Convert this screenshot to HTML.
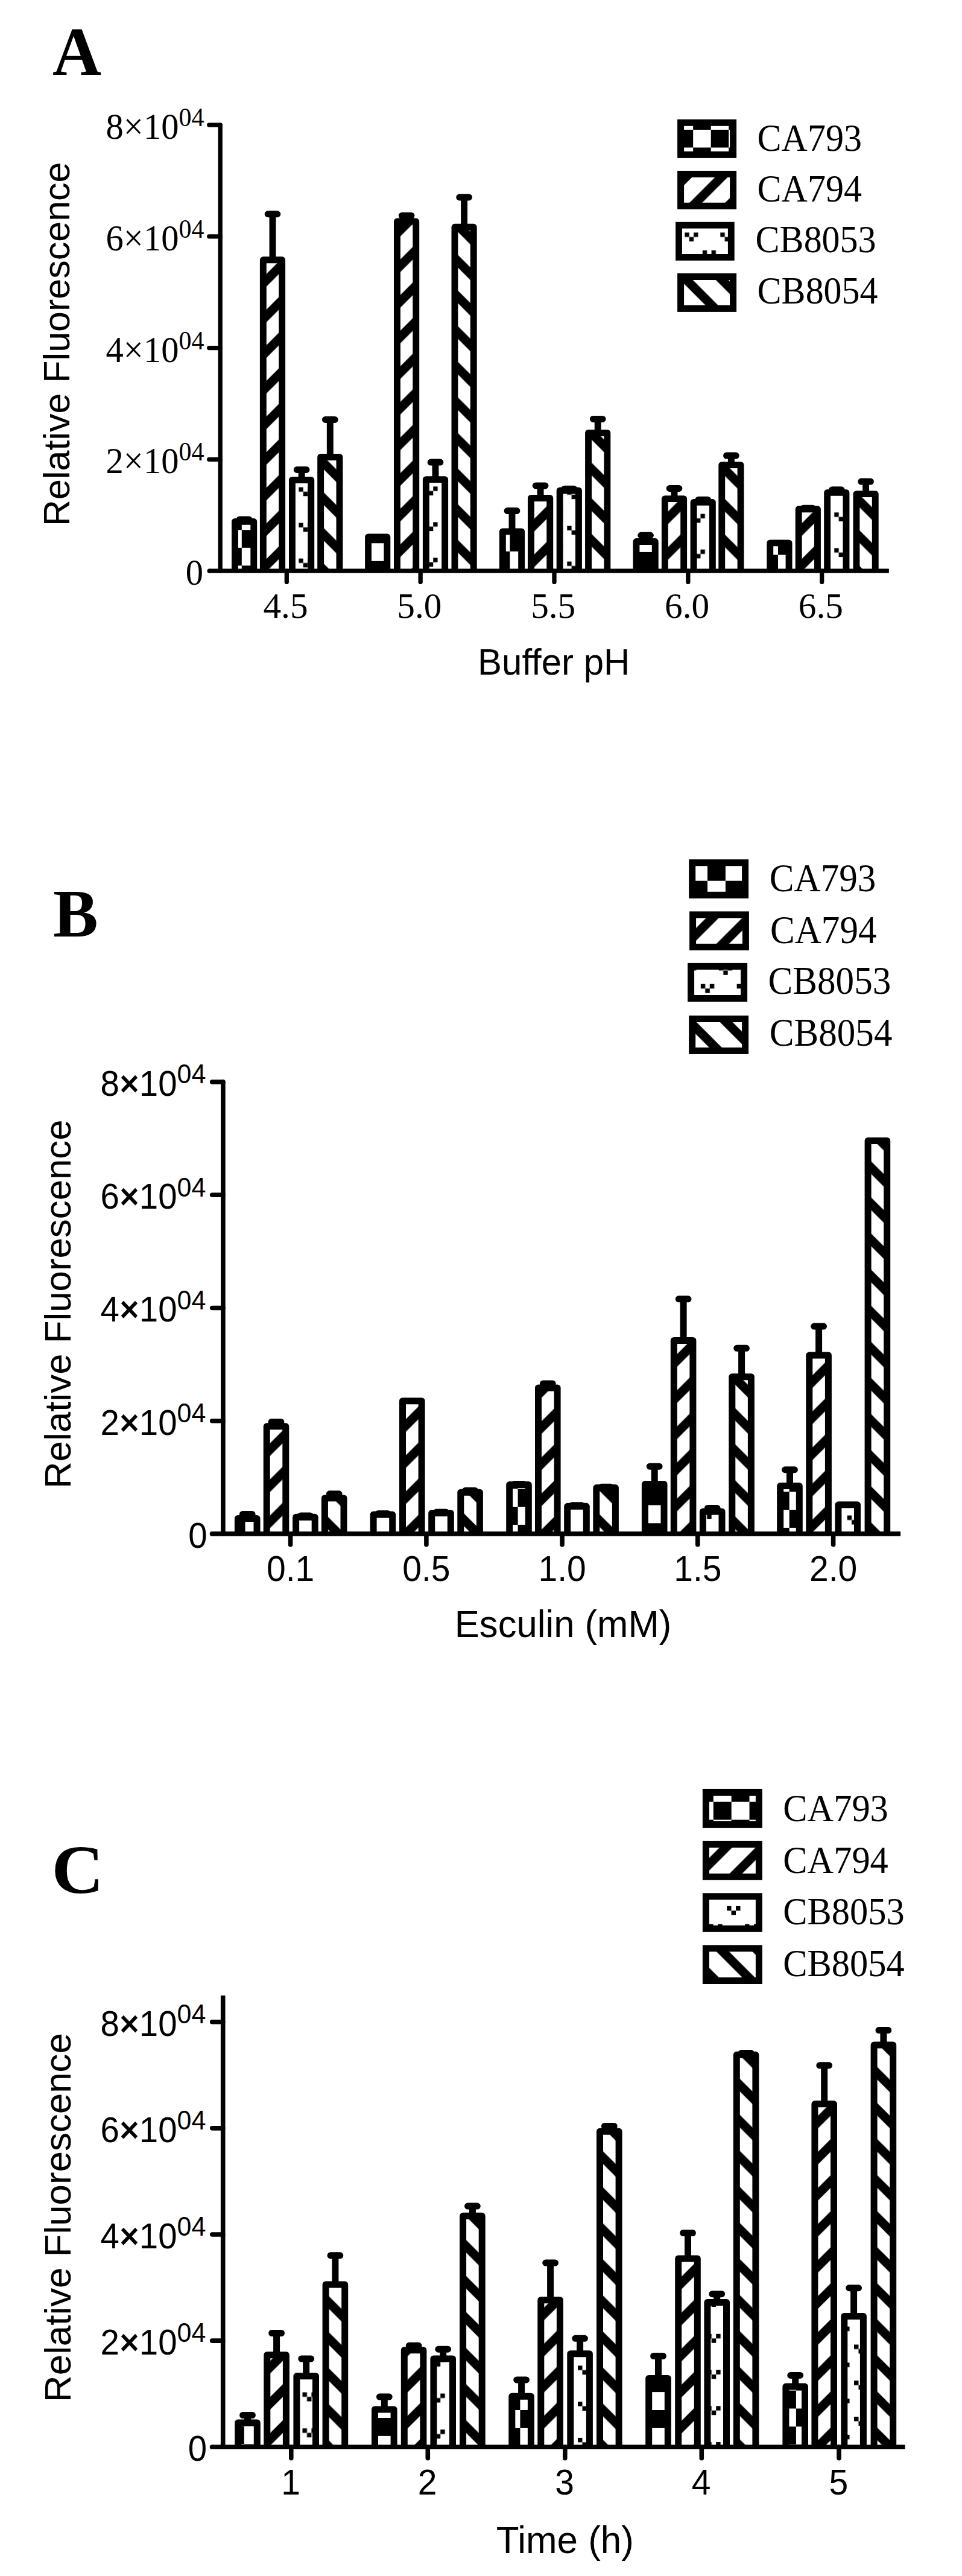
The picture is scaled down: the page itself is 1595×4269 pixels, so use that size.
<!DOCTYPE html>
<html><head><meta charset="utf-8"><title>Figure</title>
<style>
html,body{margin:0;padding:0;background:#fff;}
svg{display:block;}
text{fill:#000;}
</style></head>
<body>
<svg width="1595" height="4269" viewBox="0 0 1595 4269">
<rect width="1595" height="4269" fill="#fff"/>
<defs>
<pattern id="p1" patternUnits="userSpaceOnUse" width="59.04" height="59.04" patternTransform="translate(400.80 878.30)"><rect width="59.04" height="59.04" fill="#fff"/><rect x="0" y="0" width="29.52" height="29.52" fill="#000"/><rect x="29.52" y="29.52" width="29.52" height="29.52" fill="#000"/></pattern>
<pattern id="p2" patternUnits="userSpaceOnUse" width="59.04" height="59.04" patternTransform="translate(442.00 807.90)"><rect width="59.04" height="59.04" fill="#fff"/><polygon points="-59.04,59.04 -38.04,59.04 21.0,0 0.0,0" fill="#000"/><polygon points="0.0,59.04 21.0,59.04 80.03999999999999,0 59.04,0" fill="#000"/><polygon points="59.04,59.04 80.03999999999999,59.04 139.07999999999998,0 118.08,0" fill="#000"/></pattern>
<pattern id="p3" patternUnits="userSpaceOnUse" width="59.04" height="59.04" patternTransform="translate(495.30 807.50)"><rect width="59.04" height="59.04" fill="#fff"/><rect x="0.000" y="0.000" width="7.380" height="7.380" fill="#000"/><rect x="14.760" y="0.000" width="7.380" height="7.380" fill="#000"/><rect x="7.380" y="7.380" width="7.380" height="7.380" fill="#000"/><rect x="29.520" y="29.520" width="7.380" height="7.380" fill="#000"/><rect x="44.280" y="29.520" width="7.380" height="7.380" fill="#000"/><rect x="36.900" y="36.900" width="7.380" height="7.380" fill="#000"/></pattern>
<pattern id="p4" patternUnits="userSpaceOnUse" width="59.04" height="59.04" patternTransform="translate(537.00 837.20)"><rect width="59.04" height="59.04" fill="#fff"/><polygon points="-59.04,0 -38.04,0 21.0,59.04 0.0,59.04" fill="#000"/><polygon points="0.0,0 21.0,0 80.03999999999999,59.04 59.04,59.04" fill="#000"/><polygon points="59.04,0 80.03999999999999,0 139.07999999999998,59.04 118.08,59.04" fill="#000"/></pattern>
<pattern id="p5" patternUnits="userSpaceOnUse" width="59.04" height="59.04" patternTransform="translate(612.00 929.80)"><rect width="59.04" height="59.04" fill="#fff"/><rect x="0" y="0" width="29.52" height="29.52" fill="#000"/><rect x="29.52" y="29.52" width="29.52" height="29.52" fill="#000"/></pattern>
<pattern id="p6" patternUnits="userSpaceOnUse" width="59.04" height="59.04" patternTransform="translate(663.80 429.80)"><rect width="59.04" height="59.04" fill="#fff"/><polygon points="-59.04,59.04 -38.04,59.04 21.0,0 0.0,0" fill="#000"/><polygon points="0.0,59.04 21.0,59.04 80.03999999999999,0 59.04,0" fill="#000"/><polygon points="59.04,59.04 80.03999999999999,59.04 139.07999999999998,0 118.08,0" fill="#000"/></pattern>
<pattern id="p7" patternUnits="userSpaceOnUse" width="59.04" height="59.04" patternTransform="translate(703.50 806.30)"><rect width="59.04" height="59.04" fill="#fff"/><rect x="0.000" y="0.000" width="7.380" height="7.380" fill="#000"/><rect x="14.760" y="0.000" width="7.380" height="7.380" fill="#000"/><rect x="7.380" y="7.380" width="7.380" height="7.380" fill="#000"/><rect x="29.520" y="29.520" width="7.380" height="7.380" fill="#000"/><rect x="44.280" y="29.520" width="7.380" height="7.380" fill="#000"/><rect x="36.900" y="36.900" width="7.380" height="7.380" fill="#000"/></pattern>
<pattern id="p8" patternUnits="userSpaceOnUse" width="59.04" height="59.04" patternTransform="translate(758.90 443.10)"><rect width="59.04" height="59.04" fill="#fff"/><polygon points="-59.04,0 -38.04,0 21.0,59.04 0.0,59.04" fill="#000"/><polygon points="0.0,0 21.0,0 80.03999999999999,59.04 59.04,59.04" fill="#000"/><polygon points="59.04,0 80.03999999999999,0 139.07999999999998,59.04 118.08,59.04" fill="#000"/></pattern>
<pattern id="p9" patternUnits="userSpaceOnUse" width="59.04" height="59.04" patternTransform="translate(874.90 913.80)"><rect width="59.04" height="59.04" fill="#fff"/><rect x="0" y="0" width="29.52" height="29.52" fill="#000"/><rect x="29.52" y="29.52" width="29.52" height="29.52" fill="#000"/></pattern>
<pattern id="p10" patternUnits="userSpaceOnUse" width="59.04" height="59.04" patternTransform="translate(885.50 860.00)"><rect width="59.04" height="59.04" fill="#fff"/><polygon points="-59.04,59.04 -38.04,59.04 21.0,0 0.0,0" fill="#000"/><polygon points="0.0,59.04 21.0,59.04 80.03999999999999,0 59.04,0" fill="#000"/><polygon points="59.04,59.04 80.03999999999999,59.04 139.07999999999998,0 118.08,0" fill="#000"/></pattern>
<pattern id="p11" patternUnits="userSpaceOnUse" width="59.04" height="59.04" patternTransform="translate(940.30 871.50)"><rect width="59.04" height="59.04" fill="#fff"/><rect x="0.000" y="0.000" width="7.380" height="7.380" fill="#000"/><rect x="14.760" y="0.000" width="7.380" height="7.380" fill="#000"/><rect x="7.380" y="7.380" width="7.380" height="7.380" fill="#000"/><rect x="29.520" y="29.520" width="7.380" height="7.380" fill="#000"/><rect x="44.280" y="29.520" width="7.380" height="7.380" fill="#000"/><rect x="36.900" y="36.900" width="7.380" height="7.380" fill="#000"/></pattern>
<pattern id="p12" patternUnits="userSpaceOnUse" width="59.04" height="59.04" patternTransform="translate(980.40 846.30)"><rect width="59.04" height="59.04" fill="#fff"/><polygon points="-59.04,0 -38.04,0 21.0,59.04 0.0,59.04" fill="#000"/><polygon points="0.0,0 21.0,0 80.03999999999999,59.04 59.04,59.04" fill="#000"/><polygon points="59.04,0 80.03999999999999,0 139.07999999999998,59.04 118.08,59.04" fill="#000"/></pattern>
<pattern id="p13" patternUnits="userSpaceOnUse" width="59.04" height="59.04" patternTransform="translate(1055.00 914.90)"><rect width="59.04" height="59.04" fill="#fff"/><rect x="0" y="0" width="29.52" height="29.52" fill="#000"/><rect x="29.52" y="29.52" width="29.52" height="29.52" fill="#000"/></pattern>
<pattern id="p14" patternUnits="userSpaceOnUse" width="59.04" height="59.04" patternTransform="translate(1107.70 847.50)"><rect width="59.04" height="59.04" fill="#fff"/><polygon points="-59.04,59.04 -38.04,59.04 21.0,0 0.0,0" fill="#000"/><polygon points="0.0,59.04 21.0,59.04 80.03999999999999,0 59.04,0" fill="#000"/><polygon points="59.04,59.04 80.03999999999999,59.04 139.07999999999998,0 118.08,0" fill="#000"/></pattern>
<pattern id="p15" patternUnits="userSpaceOnUse" width="59.04" height="59.04" patternTransform="translate(1146.70 851.60)"><rect width="59.04" height="59.04" fill="#fff"/><rect x="0.000" y="0.000" width="7.380" height="7.380" fill="#000"/><rect x="14.760" y="0.000" width="7.380" height="7.380" fill="#000"/><rect x="7.380" y="7.380" width="7.380" height="7.380" fill="#000"/><rect x="29.520" y="29.520" width="7.380" height="7.380" fill="#000"/><rect x="44.280" y="29.520" width="7.380" height="7.380" fill="#000"/><rect x="36.900" y="36.900" width="7.380" height="7.380" fill="#000"/></pattern>
<pattern id="p16" patternUnits="userSpaceOnUse" width="59.04" height="59.04" patternTransform="translate(1202.70 848.60)"><rect width="59.04" height="59.04" fill="#fff"/><polygon points="-59.04,0 -38.04,0 21.0,59.04 0.0,59.04" fill="#000"/><polygon points="0.0,0 21.0,0 80.03999999999999,59.04 59.04,59.04" fill="#000"/><polygon points="59.04,0 80.03999999999999,0 139.07999999999998,59.04 118.08,59.04" fill="#000"/></pattern>
<pattern id="p17" patternUnits="userSpaceOnUse" width="59.04" height="59.04" patternTransform="translate(1319.50 919.50)"><rect width="59.04" height="59.04" fill="#fff"/><rect x="0" y="0" width="29.52" height="29.52" fill="#000"/><rect x="29.52" y="29.52" width="29.52" height="29.52" fill="#000"/></pattern>
<pattern id="p18" patternUnits="userSpaceOnUse" width="59.04" height="59.04" patternTransform="translate(1329.60 866.90)"><rect width="59.04" height="59.04" fill="#fff"/><polygon points="-59.04,59.04 -38.04,59.04 21.0,0 0.0,0" fill="#000"/><polygon points="0.0,59.04 21.0,59.04 80.03999999999999,0 59.04,0" fill="#000"/><polygon points="59.04,59.04 80.03999999999999,59.04 139.07999999999998,0 118.08,0" fill="#000"/></pattern>
<pattern id="p19" patternUnits="userSpaceOnUse" width="59.04" height="59.04" patternTransform="translate(1383.30 849.30)"><rect width="59.04" height="59.04" fill="#fff"/><rect x="0.000" y="0.000" width="7.380" height="7.380" fill="#000"/><rect x="14.760" y="0.000" width="7.380" height="7.380" fill="#000"/><rect x="7.380" y="7.380" width="7.380" height="7.380" fill="#000"/><rect x="29.520" y="29.520" width="7.380" height="7.380" fill="#000"/><rect x="44.280" y="29.520" width="7.380" height="7.380" fill="#000"/><rect x="36.900" y="36.900" width="7.380" height="7.380" fill="#000"/></pattern>
<pattern id="p20" patternUnits="userSpaceOnUse" width="59.04" height="59.04" patternTransform="translate(1424.90 840.60)"><rect width="59.04" height="59.04" fill="#fff"/><polygon points="-59.04,0 -38.04,0 21.0,59.04 0.0,59.04" fill="#000"/><polygon points="0.0,0 21.0,0 80.03999999999999,59.04 59.04,59.04" fill="#000"/><polygon points="59.04,0 80.03999999999999,0 139.07999999999998,59.04 118.08,59.04" fill="#000"/></pattern>
<pattern id="p21" patternUnits="userSpaceOnUse" width="59.04" height="59.04" patternTransform="translate(1178.70 215.00)"><rect width="59.04" height="59.04" fill="#fff"/><rect x="0" y="0" width="29.52" height="29.52" fill="#000"/><rect x="29.52" y="29.52" width="29.52" height="29.52" fill="#000"/></pattern>
<pattern id="p22" patternUnits="userSpaceOnUse" width="59.04" height="59.04" patternTransform="translate(1134.10 345.10)"><rect width="59.04" height="59.04" fill="#fff"/><polygon points="-59.04,59.04 -38.04,59.04 21.0,0 0.0,0" fill="#000"/><polygon points="0.0,59.04 21.0,59.04 80.03999999999999,0 59.04,0" fill="#000"/><polygon points="59.04,59.04 80.03999999999999,59.04 139.07999999999998,0 118.08,0" fill="#000"/></pattern>
<pattern id="p23" patternUnits="userSpaceOnUse" width="59.04" height="59.04" patternTransform="translate(1135.30 385.40)"><rect width="59.04" height="59.04" fill="#fff"/><rect x="0.000" y="0.000" width="7.380" height="7.380" fill="#000"/><rect x="14.760" y="0.000" width="7.380" height="7.380" fill="#000"/><rect x="7.380" y="7.380" width="7.380" height="7.380" fill="#000"/><rect x="29.520" y="29.520" width="7.380" height="7.380" fill="#000"/><rect x="44.280" y="29.520" width="7.380" height="7.380" fill="#000"/><rect x="36.900" y="36.900" width="7.380" height="7.380" fill="#000"/></pattern>
<pattern id="p24" patternUnits="userSpaceOnUse" width="59.04" height="59.04" patternTransform="translate(1134.10 470.30)"><rect width="59.04" height="59.04" fill="#fff"/><polygon points="-59.04,0 -38.04,0 21.0,59.04 0.0,59.04" fill="#000"/><polygon points="0.0,0 21.0,0 80.03999999999999,59.04 59.04,59.04" fill="#000"/><polygon points="59.04,0 80.03999999999999,0 139.07999999999998,59.04 118.08,59.04" fill="#000"/></pattern>
<pattern id="p25" patternUnits="userSpaceOnUse" width="59.85" height="59.85" patternTransform="translate(376.60 2515.00)"><rect width="59.85" height="59.85" fill="#fff"/><rect x="0" y="0" width="29.925" height="29.925" fill="#000"/><rect x="29.925" y="29.925" width="29.925" height="29.925" fill="#000"/></pattern>
<pattern id="p26" patternUnits="userSpaceOnUse" width="59.85" height="59.85" patternTransform="translate(447.70 2451.60)"><rect width="59.85" height="59.85" fill="#fff"/><polygon points="-59.85,59.85 -38.85,59.85 21.0,0 0.0,0" fill="#000"/><polygon points="0.0,59.85 21.0,59.85 80.85,0 59.85,0" fill="#000"/><polygon points="59.85,59.85 80.85,59.85 140.7,0 119.7,0" fill="#000"/></pattern>
<pattern id="p27" patternUnits="userSpaceOnUse" width="59.85" height="59.85" patternTransform="translate(544.30 2475.40)"><rect width="59.85" height="59.85" fill="#fff"/><polygon points="-59.85,0 -38.85,0 21.0,59.85 0.0,59.85" fill="#000"/><polygon points="0.0,0 21.0,0 80.85,59.85 59.85,59.85" fill="#000"/><polygon points="59.85,0 80.85,0 140.7,59.85 119.7,59.85" fill="#000"/></pattern>
<pattern id="p28" patternUnits="userSpaceOnUse" width="59.85" height="59.85" patternTransform="translate(672.80 2411.80)"><rect width="59.85" height="59.85" fill="#fff"/><polygon points="-59.85,59.85 -38.85,59.85 21.0,0 0.0,0" fill="#000"/><polygon points="0.0,59.85 21.0,59.85 80.85,0 59.85,0" fill="#000"/><polygon points="59.85,59.85 80.85,59.85 140.7,0 119.7,0" fill="#000"/></pattern>
<pattern id="p29" patternUnits="userSpaceOnUse" width="59.85" height="59.85" patternTransform="translate(769.20 2469.20)"><rect width="59.85" height="59.85" fill="#fff"/><polygon points="-59.85,0 -38.85,0 21.0,59.85 0.0,59.85" fill="#000"/><polygon points="0.0,0 21.0,0 80.85,59.85 59.85,59.85" fill="#000"/><polygon points="59.85,0 80.85,0 140.7,59.85 119.7,59.85" fill="#000"/></pattern>
<pattern id="p30" patternUnits="userSpaceOnUse" width="59.85" height="59.85" patternTransform="translate(828.70 2497.00)"><rect width="59.85" height="59.85" fill="#fff"/><rect x="0" y="0" width="29.925" height="29.925" fill="#000"/><rect x="29.925" y="29.925" width="29.925" height="29.925" fill="#000"/></pattern>
<pattern id="p31" patternUnits="userSpaceOnUse" width="59.85" height="59.85" patternTransform="translate(897.80 2415.20)"><rect width="59.85" height="59.85" fill="#fff"/><polygon points="-59.85,59.85 -38.85,59.85 21.0,0 0.0,0" fill="#000"/><polygon points="0.0,59.85 21.0,59.85 80.85,0 59.85,0" fill="#000"/><polygon points="59.85,59.85 80.85,59.85 140.7,0 119.7,0" fill="#000"/></pattern>
<pattern id="p32" patternUnits="userSpaceOnUse" width="59.85" height="59.85" patternTransform="translate(994.20 2470.80)"><rect width="59.85" height="59.85" fill="#fff"/><polygon points="-59.85,0 -38.85,0 21.0,59.85 0.0,59.85" fill="#000"/><polygon points="0.0,0 21.0,0 80.85,59.85 59.85,59.85" fill="#000"/><polygon points="59.85,0 80.85,0 140.7,59.85 119.7,59.85" fill="#000"/></pattern>
<pattern id="p33" patternUnits="userSpaceOnUse" width="59.85" height="59.85" patternTransform="translate(1070.00 2524.30)"><rect width="59.85" height="59.85" fill="#fff"/><rect x="0" y="0" width="29.925" height="29.925" fill="#000"/><rect x="29.925" y="29.925" width="29.925" height="29.925" fill="#000"/></pattern>
<pattern id="p34" patternUnits="userSpaceOnUse" width="59.85" height="59.85" patternTransform="translate(1122.80 2423.40)"><rect width="59.85" height="59.85" fill="#fff"/><polygon points="-59.85,59.85 -38.85,59.85 21.0,0 0.0,0" fill="#000"/><polygon points="0.0,59.85 21.0,59.85 80.85,0 59.85,0" fill="#000"/><polygon points="59.85,59.85 80.85,59.85 140.7,0 119.7,0" fill="#000"/></pattern>
<pattern id="p35" patternUnits="userSpaceOnUse" width="59.85" height="59.85" patternTransform="translate(1164.70 2502.00)"><rect width="59.85" height="59.85" fill="#fff"/><rect x="0.000" y="0.000" width="7.481" height="7.481" fill="#000"/><rect x="14.963" y="0.000" width="7.481" height="7.481" fill="#000"/><rect x="7.481" y="7.481" width="7.481" height="7.481" fill="#000"/><rect x="29.925" y="29.925" width="7.481" height="7.481" fill="#000"/><rect x="44.888" y="29.925" width="7.481" height="7.481" fill="#000"/><rect x="37.406" y="37.406" width="7.481" height="7.481" fill="#000"/></pattern>
<pattern id="p36" patternUnits="userSpaceOnUse" width="59.85" height="59.85" patternTransform="translate(1219.20 2414.70)"><rect width="59.85" height="59.85" fill="#fff"/><polygon points="-59.85,0 -38.85,0 21.0,59.85 0.0,59.85" fill="#000"/><polygon points="0.0,0 21.0,0 80.85,59.85 59.85,59.85" fill="#000"/><polygon points="59.85,0 80.85,0 140.7,59.85 119.7,59.85" fill="#000"/></pattern>
<pattern id="p37" patternUnits="userSpaceOnUse" width="59.85" height="59.85" patternTransform="translate(1308.70 2502.00)"><rect width="59.85" height="59.85" fill="#fff"/><rect x="0" y="0" width="29.925" height="29.925" fill="#000"/><rect x="29.925" y="29.925" width="29.925" height="29.925" fill="#000"/></pattern>
<pattern id="p38" patternUnits="userSpaceOnUse" width="59.85" height="59.85" patternTransform="translate(1347.30 2398.50)"><rect width="59.85" height="59.85" fill="#fff"/><polygon points="-59.85,59.85 -38.85,59.85 21.0,0 0.0,0" fill="#000"/><polygon points="0.0,59.85 21.0,59.85 80.85,0 59.85,0" fill="#000"/><polygon points="59.85,59.85 80.85,59.85 140.7,0 119.7,0" fill="#000"/></pattern>
<pattern id="p39" patternUnits="userSpaceOnUse" width="59.85" height="59.85" patternTransform="translate(1404.70 2511.50)"><rect width="59.85" height="59.85" fill="#fff"/><rect x="0.000" y="0.000" width="7.481" height="7.481" fill="#000"/><rect x="14.963" y="0.000" width="7.481" height="7.481" fill="#000"/><rect x="7.481" y="7.481" width="7.481" height="7.481" fill="#000"/><rect x="29.925" y="29.925" width="7.481" height="7.481" fill="#000"/><rect x="44.888" y="29.925" width="7.481" height="7.481" fill="#000"/><rect x="37.406" y="37.406" width="7.481" height="7.481" fill="#000"/></pattern>
<pattern id="p40" patternUnits="userSpaceOnUse" width="59.85" height="59.85" patternTransform="translate(1444.20 2424.20)"><rect width="59.85" height="59.85" fill="#fff"/><polygon points="-59.85,0 -38.85,0 21.0,59.85 0.0,59.85" fill="#000"/><polygon points="0.0,0 21.0,0 80.85,59.85 59.85,59.85" fill="#000"/><polygon points="59.85,0 80.85,0 140.7,59.85 119.7,59.85" fill="#000"/></pattern>
<pattern id="p41" patternUnits="userSpaceOnUse" width="59.85" height="59.85" patternTransform="translate(1202.90 1459.70)"><rect width="59.85" height="59.85" fill="#fff"/><rect x="0" y="0" width="29.925" height="29.925" fill="#000"/><rect x="29.925" y="29.925" width="29.925" height="29.925" fill="#000"/></pattern>
<pattern id="p42" patternUnits="userSpaceOnUse" width="59.85" height="59.85" patternTransform="translate(1154.30 1537.70)"><rect width="59.85" height="59.85" fill="#fff"/><polygon points="-59.85,59.85 -38.85,59.85 21.0,0 0.0,0" fill="#000"/><polygon points="0.0,59.85 21.0,59.85 80.85,0 59.85,0" fill="#000"/><polygon points="59.85,59.85 80.85,59.85 140.7,0 119.7,0" fill="#000"/></pattern>
<pattern id="p43" patternUnits="userSpaceOnUse" width="59.85" height="59.85" patternTransform="translate(1161.80 1630.70)"><rect width="59.85" height="59.85" fill="#fff"/><rect x="0.000" y="0.000" width="7.481" height="7.481" fill="#000"/><rect x="14.963" y="0.000" width="7.481" height="7.481" fill="#000"/><rect x="7.481" y="7.481" width="7.481" height="7.481" fill="#000"/><rect x="29.925" y="29.925" width="7.481" height="7.481" fill="#000"/><rect x="44.888" y="29.925" width="7.481" height="7.481" fill="#000"/><rect x="37.406" y="37.406" width="7.481" height="7.481" fill="#000"/></pattern>
<pattern id="p44" patternUnits="userSpaceOnUse" width="59.85" height="59.85" patternTransform="translate(1153.00 1713.10)"><rect width="59.85" height="59.85" fill="#fff"/><polygon points="-59.85,0 -38.85,0 21.0,59.85 0.0,59.85" fill="#000"/><polygon points="0.0,0 21.0,0 80.85,59.85 59.85,59.85" fill="#000"/><polygon points="59.85,0 80.85,0 140.7,59.85 119.7,59.85" fill="#000"/></pattern>
<pattern id="p45" patternUnits="userSpaceOnUse" width="59.76" height="59.76" patternTransform="translate(374.95 4020.80)"><rect width="59.76" height="59.76" fill="#fff"/><rect x="0" y="0" width="29.88" height="29.88" fill="#000"/><rect x="29.88" y="29.88" width="29.88" height="29.88" fill="#000"/></pattern>
<pattern id="p46" patternUnits="userSpaceOnUse" width="59.76" height="59.76" patternTransform="translate(448.10 3972.10)"><rect width="59.76" height="59.76" fill="#fff"/><polygon points="-59.76,59.76 -38.76,59.76 21.0,0 0.0,0" fill="#000"/><polygon points="0.0,59.76 21.0,59.76 80.75999999999999,0 59.76,0" fill="#000"/><polygon points="59.76,59.76 80.75999999999999,59.76 140.51999999999998,0 119.52,0" fill="#000"/></pattern>
<pattern id="p47" patternUnits="userSpaceOnUse" width="59.76" height="59.76" patternTransform="translate(501.50 3964.60)"><rect width="59.76" height="59.76" fill="#fff"/><rect x="0.000" y="0.000" width="7.470" height="7.470" fill="#000"/><rect x="14.940" y="0.000" width="7.470" height="7.470" fill="#000"/><rect x="7.470" y="7.470" width="7.470" height="7.470" fill="#000"/><rect x="29.880" y="29.880" width="7.470" height="7.470" fill="#000"/><rect x="44.820" y="29.880" width="7.470" height="7.470" fill="#000"/><rect x="37.350" y="37.350" width="7.470" height="7.470" fill="#000"/></pattern>
<pattern id="p48" patternUnits="userSpaceOnUse" width="59.76" height="59.76" patternTransform="translate(545.40 3945.90)"><rect width="59.76" height="59.76" fill="#fff"/><polygon points="-59.76,0 -38.76,0 21.0,59.76 0.0,59.76" fill="#000"/><polygon points="0.0,0 21.0,0 80.75999999999999,59.76 59.76,59.76" fill="#000"/><polygon points="59.76,0 80.75999999999999,0 140.51999999999998,59.76 119.52,59.76" fill="#000"/></pattern>
<pattern id="p49" patternUnits="userSpaceOnUse" width="59.76" height="59.76" patternTransform="translate(622.00 4007.00)"><rect width="59.76" height="59.76" fill="#fff"/><rect x="0" y="0" width="29.88" height="29.88" fill="#000"/><rect x="29.88" y="29.88" width="29.88" height="29.88" fill="#000"/></pattern>
<pattern id="p50" patternUnits="userSpaceOnUse" width="59.76" height="59.76" patternTransform="translate(676.10 3943.40)"><rect width="59.76" height="59.76" fill="#fff"/><polygon points="-59.76,59.76 -38.76,59.76 21.0,0 0.0,0" fill="#000"/><polygon points="0.0,59.76 21.0,59.76 80.75999999999999,0 59.76,0" fill="#000"/><polygon points="59.76,59.76 80.75999999999999,59.76 140.51999999999998,0 119.52,0" fill="#000"/></pattern>
<pattern id="p51" patternUnits="userSpaceOnUse" width="59.76" height="59.76" patternTransform="translate(715.30 3966.60)"><rect width="59.76" height="59.76" fill="#fff"/><rect x="0.000" y="0.000" width="7.470" height="7.470" fill="#000"/><rect x="14.940" y="0.000" width="7.470" height="7.470" fill="#000"/><rect x="7.470" y="7.470" width="7.470" height="7.470" fill="#000"/><rect x="29.880" y="29.880" width="7.470" height="7.470" fill="#000"/><rect x="44.820" y="29.880" width="7.470" height="7.470" fill="#000"/><rect x="37.350" y="37.350" width="7.470" height="7.470" fill="#000"/></pattern>
<pattern id="p52" patternUnits="userSpaceOnUse" width="59.76" height="59.76" patternTransform="translate(772.20 3911.70)"><rect width="59.76" height="59.76" fill="#fff"/><polygon points="-59.76,0 -38.76,0 21.0,59.76 0.0,59.76" fill="#000"/><polygon points="0.0,0 21.0,0 80.75999999999999,59.76 59.76,59.76" fill="#000"/><polygon points="59.76,0 80.75999999999999,0 140.51999999999998,59.76 119.52,59.76" fill="#000"/></pattern>
<pattern id="p53" patternUnits="userSpaceOnUse" width="59.76" height="59.76" patternTransform="translate(862.40 3994.00)"><rect width="59.76" height="59.76" fill="#fff"/><rect x="0" y="0" width="29.88" height="29.88" fill="#000"/><rect x="29.88" y="29.88" width="29.88" height="29.88" fill="#000"/></pattern>
<pattern id="p54" patternUnits="userSpaceOnUse" width="59.76" height="59.76" patternTransform="translate(902.40 3943.40)"><rect width="59.76" height="59.76" fill="#fff"/><polygon points="-59.76,59.76 -38.76,59.76 21.0,0 0.0,0" fill="#000"/><polygon points="0.0,59.76 21.0,59.76 80.75999999999999,0 59.76,0" fill="#000"/><polygon points="59.76,59.76 80.75999999999999,59.76 140.51999999999998,0 119.52,0" fill="#000"/></pattern>
<pattern id="p55" patternUnits="userSpaceOnUse" width="59.76" height="59.76" patternTransform="translate(958.00 3920.40)"><rect width="59.76" height="59.76" fill="#fff"/><rect x="0.000" y="0.000" width="7.470" height="7.470" fill="#000"/><rect x="14.940" y="0.000" width="7.470" height="7.470" fill="#000"/><rect x="7.470" y="7.470" width="7.470" height="7.470" fill="#000"/><rect x="29.880" y="29.880" width="7.470" height="7.470" fill="#000"/><rect x="44.820" y="29.880" width="7.470" height="7.470" fill="#000"/><rect x="37.350" y="37.350" width="7.470" height="7.470" fill="#000"/></pattern>
<pattern id="p56" patternUnits="userSpaceOnUse" width="59.76" height="59.76" patternTransform="translate(999.70 3944.60)"><rect width="59.76" height="59.76" fill="#fff"/><polygon points="-59.76,0 -38.76,0 21.0,59.76 0.0,59.76" fill="#000"/><polygon points="0.0,0 21.0,0 80.75999999999999,59.76 59.76,59.76" fill="#000"/><polygon points="59.76,0 80.75999999999999,0 140.51999999999998,59.76 119.52,59.76" fill="#000"/></pattern>
<pattern id="p57" patternUnits="userSpaceOnUse" width="59.76" height="59.76" patternTransform="translate(1076.00 3994.00)"><rect width="59.76" height="59.76" fill="#fff"/><rect x="0" y="0" width="29.88" height="29.88" fill="#000"/><rect x="29.88" y="29.88" width="29.88" height="29.88" fill="#000"/></pattern>
<pattern id="p58" patternUnits="userSpaceOnUse" width="59.76" height="59.76" patternTransform="translate(1129.90 3952.10)"><rect width="59.76" height="59.76" fill="#fff"/><polygon points="-59.76,59.76 -38.76,59.76 21.0,0 0.0,0" fill="#000"/><polygon points="0.0,59.76 21.0,59.76 80.75999999999999,0 59.76,0" fill="#000"/><polygon points="59.76,59.76 80.75999999999999,59.76 140.51999999999998,0 119.52,0" fill="#000"/></pattern>
<pattern id="p59" patternUnits="userSpaceOnUse" width="59.76" height="59.76" patternTransform="translate(1172.30 3867.80)"><rect width="59.76" height="59.76" fill="#fff"/><rect x="0.000" y="0.000" width="7.470" height="7.470" fill="#000"/><rect x="14.940" y="0.000" width="7.470" height="7.470" fill="#000"/><rect x="7.470" y="7.470" width="7.470" height="7.470" fill="#000"/><rect x="29.880" y="29.880" width="7.470" height="7.470" fill="#000"/><rect x="44.820" y="29.880" width="7.470" height="7.470" fill="#000"/><rect x="37.350" y="37.350" width="7.470" height="7.470" fill="#000"/></pattern>
<pattern id="p60" patternUnits="userSpaceOnUse" width="59.76" height="59.76" patternTransform="translate(1226.70 3944.10)"><rect width="59.76" height="59.76" fill="#fff"/><polygon points="-59.76,0 -38.76,0 21.0,59.76 0.0,59.76" fill="#000"/><polygon points="0.0,0 21.0,0 80.75999999999999,59.76 59.76,59.76" fill="#000"/><polygon points="59.76,0 80.75999999999999,0 140.51999999999998,59.76 119.52,59.76" fill="#000"/></pattern>
<pattern id="p61" patternUnits="userSpaceOnUse" width="59.76" height="59.76" patternTransform="translate(1319.90 3991.50)"><rect width="59.76" height="59.76" fill="#fff"/><rect x="0" y="0" width="29.88" height="29.88" fill="#000"/><rect x="29.88" y="29.88" width="29.88" height="29.88" fill="#000"/></pattern>
<pattern id="p62" patternUnits="userSpaceOnUse" width="59.76" height="59.76" patternTransform="translate(1356.10 3924.70)"><rect width="59.76" height="59.76" fill="#fff"/><polygon points="-59.76,59.76 -38.76,59.76 21.0,0 0.0,0" fill="#000"/><polygon points="0.0,59.76 21.0,59.76 80.75999999999999,0 59.76,0" fill="#000"/><polygon points="59.76,59.76 80.75999999999999,59.76 140.51999999999998,0 119.52,0" fill="#000"/></pattern>
<pattern id="p63" patternUnits="userSpaceOnUse" width="59.76" height="59.76" patternTransform="translate(1416.00 3885.50)"><rect width="59.76" height="59.76" fill="#fff"/><rect x="0.000" y="0.000" width="7.470" height="7.470" fill="#000"/><rect x="14.940" y="0.000" width="7.470" height="7.470" fill="#000"/><rect x="7.470" y="7.470" width="7.470" height="7.470" fill="#000"/><rect x="29.880" y="29.880" width="7.470" height="7.470" fill="#000"/><rect x="44.820" y="29.880" width="7.470" height="7.470" fill="#000"/><rect x="37.350" y="37.350" width="7.470" height="7.470" fill="#000"/></pattern>
<pattern id="p64" patternUnits="userSpaceOnUse" width="59.76" height="59.76" patternTransform="translate(1454.20 3924.20)"><rect width="59.76" height="59.76" fill="#fff"/><polygon points="-59.76,0 -38.76,0 21.0,59.76 0.0,59.76" fill="#000"/><polygon points="0.0,0 21.0,0 80.75999999999999,59.76 59.76,59.76" fill="#000"/><polygon points="59.76,0 80.75999999999999,0 140.51999999999998,59.76 119.52,59.76" fill="#000"/></pattern>
<pattern id="p65" patternUnits="userSpaceOnUse" width="59.76" height="59.76" patternTransform="translate(1182.80 2985.80)"><rect width="59.76" height="59.76" fill="#fff"/><rect x="0" y="0" width="29.88" height="29.88" fill="#000"/><rect x="29.88" y="29.88" width="29.88" height="29.88" fill="#000"/></pattern>
<pattern id="p66" patternUnits="userSpaceOnUse" width="59.76" height="59.76" patternTransform="translate(1175.70 3079.10)"><rect width="59.76" height="59.76" fill="#fff"/><polygon points="-59.76,59.76 -38.76,59.76 21.0,0 0.0,0" fill="#000"/><polygon points="0.0,59.76 21.0,59.76 80.75999999999999,0 59.76,0" fill="#000"/><polygon points="59.76,59.76 80.75999999999999,59.76 140.51999999999998,0 119.52,0" fill="#000"/></pattern>
<pattern id="p67" patternUnits="userSpaceOnUse" width="59.76" height="59.76" patternTransform="translate(1205.10 3158.90)"><rect width="59.76" height="59.76" fill="#fff"/><rect x="0.000" y="0.000" width="7.470" height="7.470" fill="#000"/><rect x="14.940" y="0.000" width="7.470" height="7.470" fill="#000"/><rect x="7.470" y="7.470" width="7.470" height="7.470" fill="#000"/><rect x="29.880" y="29.880" width="7.470" height="7.470" fill="#000"/><rect x="44.820" y="29.880" width="7.470" height="7.470" fill="#000"/><rect x="37.350" y="37.350" width="7.470" height="7.470" fill="#000"/></pattern>
<pattern id="p68" patternUnits="userSpaceOnUse" width="59.76" height="59.76" patternTransform="translate(1175.70 3222.10)"><rect width="59.76" height="59.76" fill="#fff"/><polygon points="-59.76,0 -38.76,0 21.0,59.76 0.0,59.76" fill="#000"/><polygon points="0.0,0 21.0,0 80.75999999999999,59.76 59.76,59.76" fill="#000"/><polygon points="59.76,0 80.75999999999999,0 140.51999999999998,59.76 119.52,59.76" fill="#000"/></pattern>
</defs>
<path d="M405.10 864.35V860.95M397.20 860.95H413.00" stroke="#000" stroke-width="10.9" stroke-linecap="round" fill="none"/>
<path d="M389.45 946.15V864.35H420.75V946.15" fill="url(#p1)" stroke="#000" stroke-width="10.9" stroke-linejoin="round" stroke-linecap="butt"/>
<path d="M452.00 430.75V354.75M444.10 354.75H459.90" stroke="#000" stroke-width="10.9" stroke-linecap="round" fill="none"/>
<path d="M436.35 946.15V430.75H467.65V946.15" fill="url(#p2)" stroke="#000" stroke-width="10.9" stroke-linejoin="round" stroke-linecap="butt"/>
<path d="M500.10 795.45V778.45M492.20 778.45H508.00" stroke="#000" stroke-width="10.9" stroke-linecap="round" fill="none"/>
<path d="M484.45 946.15V795.45H515.75V946.15" fill="url(#p3)" stroke="#000" stroke-width="10.9" stroke-linejoin="round" stroke-linecap="butt"/>
<path d="M547.30 757.45V695.45M539.40 695.45H555.20" stroke="#000" stroke-width="10.9" stroke-linecap="round" fill="none"/>
<path d="M531.65 946.15V757.45H562.95V946.15" fill="url(#p4)" stroke="#000" stroke-width="10.9" stroke-linejoin="round" stroke-linecap="butt"/>
<path d="M610.55 946.15V889.95H641.85V946.15" fill="url(#p5)" stroke="#000" stroke-width="10.9" stroke-linejoin="round" stroke-linecap="butt"/>
<path d="M674.10 367.05V357.45M666.20 357.45H682.00" stroke="#000" stroke-width="10.9" stroke-linecap="round" fill="none"/>
<path d="M658.45 946.15V367.05H689.75V946.15" fill="url(#p6)" stroke="#000" stroke-width="10.9" stroke-linejoin="round" stroke-linecap="butt"/>
<path d="M722.00 794.65V766.05M714.10 766.05H729.90" stroke="#000" stroke-width="10.9" stroke-linecap="round" fill="none"/>
<path d="M706.35 946.15V794.65H737.65V946.15" fill="url(#p7)" stroke="#000" stroke-width="10.9" stroke-linejoin="round" stroke-linecap="butt"/>
<path d="M769.60 376.25V326.95M761.70 326.95H777.50" stroke="#000" stroke-width="10.9" stroke-linecap="round" fill="none"/>
<path d="M753.95 946.15V376.25H785.25V946.15" fill="url(#p8)" stroke="#000" stroke-width="10.9" stroke-linejoin="round" stroke-linecap="butt"/>
<path d="M849.00 880.85V846.55M841.10 846.55H856.90" stroke="#000" stroke-width="10.9" stroke-linecap="round" fill="none"/>
<path d="M833.35 946.15V880.85H864.65V946.15" fill="url(#p9)" stroke="#000" stroke-width="10.9" stroke-linejoin="round" stroke-linecap="butt"/>
<path d="M896.10 825.45V804.95M888.20 804.95H904.00" stroke="#000" stroke-width="10.9" stroke-linecap="round" fill="none"/>
<path d="M880.45 946.15V825.45H911.75V946.15" fill="url(#p10)" stroke="#000" stroke-width="10.9" stroke-linejoin="round" stroke-linecap="butt"/>
<path d="M943.80 812.95V810.15M935.90 810.15H951.70" stroke="#000" stroke-width="10.9" stroke-linecap="round" fill="none"/>
<path d="M928.15 946.15V812.95H959.45V946.15" fill="url(#p11)" stroke="#000" stroke-width="10.9" stroke-linejoin="round" stroke-linecap="butt"/>
<path d="M991.20 717.45V694.45M983.30 694.45H999.10" stroke="#000" stroke-width="10.9" stroke-linecap="round" fill="none"/>
<path d="M975.55 946.15V717.45H1006.85V946.15" fill="url(#p12)" stroke="#000" stroke-width="10.9" stroke-linejoin="round" stroke-linecap="butt"/>
<path d="M1070.60 897.55V887.25M1062.70 887.25H1078.50" stroke="#000" stroke-width="10.9" stroke-linecap="round" fill="none"/>
<path d="M1054.95 946.15V897.55H1086.25V946.15" fill="url(#p13)" stroke="#000" stroke-width="10.9" stroke-linejoin="round" stroke-linecap="butt"/>
<path d="M1118.00 826.65V809.45M1110.10 809.45H1125.90" stroke="#000" stroke-width="10.9" stroke-linecap="round" fill="none"/>
<path d="M1102.35 946.15V826.65H1133.65V946.15" fill="url(#p14)" stroke="#000" stroke-width="10.9" stroke-linejoin="round" stroke-linecap="butt"/>
<path d="M1165.70 832.35V828.25M1157.80 828.25H1173.60" stroke="#000" stroke-width="10.9" stroke-linecap="round" fill="none"/>
<path d="M1150.05 946.15V832.35H1181.35V946.15" fill="url(#p15)" stroke="#000" stroke-width="10.9" stroke-linejoin="round" stroke-linecap="butt"/>
<path d="M1212.40 770.65V755.05M1204.50 755.05H1220.30" stroke="#000" stroke-width="10.9" stroke-linecap="round" fill="none"/>
<path d="M1196.75 946.15V770.65H1228.05V946.15" fill="url(#p16)" stroke="#000" stroke-width="10.9" stroke-linejoin="round" stroke-linecap="butt"/>
<path d="M1276.75 946.15V899.85H1308.05V946.15" fill="url(#p17)" stroke="#000" stroke-width="10.9" stroke-linejoin="round" stroke-linecap="butt"/>
<path d="M1339.80 843.75V842.25M1331.90 842.25H1347.70" stroke="#000" stroke-width="10.9" stroke-linecap="round" fill="none"/>
<path d="M1324.15 946.15V843.75H1355.45V946.15" fill="url(#p18)" stroke="#000" stroke-width="10.9" stroke-linejoin="round" stroke-linecap="butt"/>
<path d="M1387.30 816.35V811.75M1379.40 811.75H1395.20" stroke="#000" stroke-width="10.9" stroke-linecap="round" fill="none"/>
<path d="M1371.65 946.15V816.35H1402.95V946.15" fill="url(#p19)" stroke="#000" stroke-width="10.9" stroke-linejoin="round" stroke-linecap="butt"/>
<path d="M1435.60 818.65V798.05M1427.70 798.05H1443.50" stroke="#000" stroke-width="10.9" stroke-linecap="round" fill="none"/>
<path d="M1419.95 946.15V818.65H1451.25V946.15" fill="url(#p20)" stroke="#000" stroke-width="10.9" stroke-linejoin="round" stroke-linecap="butt"/>
<path d="M365.2 207.05V946.15" stroke="#000" stroke-width="7.3" stroke-linecap="round" fill="none"/>
<path d="M347.2 946.15H1473.8500000000001" stroke="#000" stroke-width="7.3" stroke-linecap="butt" fill="none"/><circle cx="347.2" cy="946.15" r="3.65"/>
<path d="M346.7 207.05H365.2" stroke="#000" stroke-width="7.3" stroke-linecap="round" fill="none"/>
<path d="M346.7 391.8H365.2" stroke="#000" stroke-width="7.3" stroke-linecap="round" fill="none"/>
<path d="M346.7 576.6H365.2" stroke="#000" stroke-width="7.3" stroke-linecap="round" fill="none"/>
<path d="M346.7 761.4H365.2" stroke="#000" stroke-width="7.3" stroke-linecap="round" fill="none"/>
<path d="M475.3 946.15V964.4" stroke="#000" stroke-width="7.3" stroke-linecap="round" fill="none"/>
<path d="M697.15 946.15V964.4" stroke="#000" stroke-width="7.3" stroke-linecap="round" fill="none"/>
<path d="M919.0 946.15V964.4" stroke="#000" stroke-width="7.3" stroke-linecap="round" fill="none"/>
<path d="M1140.85 946.15V964.4" stroke="#000" stroke-width="7.3" stroke-linecap="round" fill="none"/>
<path d="M1362.7 946.15V964.4" stroke="#000" stroke-width="7.3" stroke-linecap="round" fill="none"/>
<text transform="translate(338.5 229.95000000000002) scale(1 1.035)" font-family='"Liberation Serif", serif' font-size="58.6" text-anchor="end">8×10<tspan font-size="42" dy="-20.29">04</tspan></text>
<text transform="translate(338.5 414.7) scale(1 1.035)" font-family='"Liberation Serif", serif' font-size="58.6" text-anchor="end">6×10<tspan font-size="42" dy="-20.29">04</tspan></text>
<text transform="translate(338.5 599.5) scale(1 1.035)" font-family='"Liberation Serif", serif' font-size="58.6" text-anchor="end">4×10<tspan font-size="42" dy="-20.29">04</tspan></text>
<text transform="translate(338.5 784.3) scale(1 1.035)" font-family='"Liberation Serif", serif' font-size="58.6" text-anchor="end">2×10<tspan font-size="42" dy="-20.29">04</tspan></text>
<text transform="translate(337 969.05) scale(1.0 1.035)" font-family='"Liberation Serif", serif' font-size="58.6" font-weight="normal" text-anchor="end" >0</text>
<text x="473.5" y="1023.6" font-family='"Liberation Serif", serif' font-size="59.3" font-weight="normal" text-anchor="middle" >4.5</text>
<text x="695.35" y="1023.6" font-family='"Liberation Serif", serif' font-size="59.3" font-weight="normal" text-anchor="middle" >5.0</text>
<text x="917.2" y="1023.6" font-family='"Liberation Serif", serif' font-size="59.3" font-weight="normal" text-anchor="middle" >5.5</text>
<text x="1139.05" y="1023.6" font-family='"Liberation Serif", serif' font-size="59.3" font-weight="normal" text-anchor="middle" >6.0</text>
<text x="1360.9" y="1023.6" font-family='"Liberation Serif", serif' font-size="59.3" font-weight="normal" text-anchor="middle" >6.5</text>
<text transform="translate(918.25 1118.2) scale(1.0 1.03)" font-family='"Liberation Sans", sans-serif' font-size="60" font-weight="normal" text-anchor="middle" >Buffer pH</text>
<text transform="translate(114.9 570.25) rotate(-90)" font-family='"Liberation Sans", sans-serif' font-size="61" text-anchor="middle">Relative Fluorescence</text>
<text transform="translate(87 123.9) scale(1.0 1.03)" font-family='"Liberation Serif", serif' font-size="112" font-weight="bold" text-anchor="start" >A</text>
<rect x="1128.60" y="203.30" width="87.00" height="53.10" fill="url(#p21)" stroke="#000" stroke-width="11"/>
<text transform="translate(1255.6 249.6) scale(1.0 1.07)" font-family='"Liberation Serif", serif' font-size="60" font-weight="normal" text-anchor="start" >CA793</text>
<rect x="1128.60" y="288.50" width="87.00" height="52.80" fill="url(#p22)" stroke="#000" stroke-width="11"/>
<text transform="translate(1255.6 333.9) scale(1.0 1.07)" font-family='"Liberation Serif", serif' font-size="60" font-weight="normal" text-anchor="start" >CA794</text>
<rect x="1125.50" y="373.20" width="86.80" height="53.20" fill="url(#p23)" stroke="#000" stroke-width="10.8"/>
<text transform="translate(1252.6 418.1) scale(1.0 1.07)" font-family='"Liberation Serif", serif' font-size="60" font-weight="normal" text-anchor="start" >CB8053</text>
<rect x="1128.60" y="458.50" width="87.00" height="52.90" fill="url(#p24)" stroke="#000" stroke-width="11"/>
<text transform="translate(1255.6 502.9) scale(1.0 1.07)" font-family='"Liberation Serif", serif' font-size="60" font-weight="normal" text-anchor="start" >CB8054</text>
<path d="M410.20 2516.50V2509.50M402.30 2509.50H418.10" stroke="#000" stroke-width="11.0" stroke-linecap="round" fill="none"/>
<path d="M394.40 2541.90V2516.50H426.00V2541.90" fill="url(#p25)" stroke="#000" stroke-width="11.0" stroke-linejoin="round" stroke-linecap="butt"/>
<path d="M458.00 2363.80V2356.50M450.10 2356.50H465.90" stroke="#000" stroke-width="11.0" stroke-linecap="round" fill="none"/>
<path d="M442.20 2541.90V2363.80H473.80V2541.90" fill="url(#p26)" stroke="#000" stroke-width="11.0" stroke-linejoin="round" stroke-linecap="butt"/>
<path d="M506.40 2514.30V2512.00M498.50 2512.00H514.30" stroke="#000" stroke-width="11.0" stroke-linecap="round" fill="none"/>
<path d="M490.60 2541.90V2514.30H522.20V2541.90" fill="#fff" stroke="#000" stroke-width="11.0" stroke-linejoin="round" stroke-linecap="butt"/>
<path d="M554.20 2482.70V2475.80M546.30 2475.80H562.10" stroke="#000" stroke-width="11.0" stroke-linecap="round" fill="none"/>
<path d="M538.40 2541.90V2482.70H570.00V2541.90" fill="url(#p27)" stroke="#000" stroke-width="11.0" stroke-linejoin="round" stroke-linecap="butt"/>
<path d="M634.90 2510.10V2508.50M627.00 2508.50H642.80" stroke="#000" stroke-width="11.0" stroke-linecap="round" fill="none"/>
<path d="M619.10 2541.90V2510.10H650.70V2541.90" fill="#fff" stroke="#000" stroke-width="11.0" stroke-linejoin="round" stroke-linecap="butt"/>
<path d="M667.50 2541.90V2321.70H699.10V2541.90" fill="url(#p28)" stroke="#000" stroke-width="11.0" stroke-linejoin="round" stroke-linecap="butt"/>
<path d="M731.50 2507.60V2505.90M723.60 2505.90H739.40" stroke="#000" stroke-width="11.0" stroke-linecap="round" fill="none"/>
<path d="M715.70 2541.90V2507.60H747.30V2541.90" fill="#fff" stroke="#000" stroke-width="11.0" stroke-linejoin="round" stroke-linecap="butt"/>
<path d="M779.60 2473.20V2470.20M771.70 2470.20H787.50" stroke="#000" stroke-width="11.0" stroke-linecap="round" fill="none"/>
<path d="M763.80 2541.90V2473.20H795.40V2541.90" fill="url(#p29)" stroke="#000" stroke-width="11.0" stroke-linejoin="round" stroke-linecap="butt"/>
<path d="M860.50 2460.60V2459.50M852.60 2459.50H868.40" stroke="#000" stroke-width="11.0" stroke-linecap="round" fill="none"/>
<path d="M844.70 2541.90V2460.60H876.30V2541.90" fill="url(#p30)" stroke="#000" stroke-width="11.0" stroke-linejoin="round" stroke-linecap="butt"/>
<path d="M908.30 2300.00V2293.00M900.40 2293.00H916.20" stroke="#000" stroke-width="11.0" stroke-linecap="round" fill="none"/>
<path d="M892.50 2541.90V2300.00H924.10V2541.90" fill="url(#p31)" stroke="#000" stroke-width="11.0" stroke-linejoin="round" stroke-linecap="butt"/>
<path d="M956.50 2496.30V2494.70M948.60 2494.70H964.40" stroke="#000" stroke-width="11.0" stroke-linecap="round" fill="none"/>
<path d="M940.70 2541.90V2496.30H972.30V2541.90" fill="#fff" stroke="#000" stroke-width="11.0" stroke-linejoin="round" stroke-linecap="butt"/>
<path d="M1004.60 2465.60V2464.30M996.70 2464.30H1012.50" stroke="#000" stroke-width="11.0" stroke-linecap="round" fill="none"/>
<path d="M988.80 2541.90V2465.60H1020.40V2541.90" fill="url(#p32)" stroke="#000" stroke-width="11.0" stroke-linejoin="round" stroke-linecap="butt"/>
<path d="M1085.20 2459.60V2430.20M1077.30 2430.20H1093.10" stroke="#000" stroke-width="11.0" stroke-linecap="round" fill="none"/>
<path d="M1069.40 2541.90V2459.60H1101.00V2541.90" fill="url(#p33)" stroke="#000" stroke-width="11.0" stroke-linejoin="round" stroke-linecap="butt"/>
<path d="M1133.10 2221.40V2152.80M1125.20 2152.80H1141.00" stroke="#000" stroke-width="11.0" stroke-linecap="round" fill="none"/>
<path d="M1117.30 2541.90V2221.40H1148.90V2541.90" fill="url(#p34)" stroke="#000" stroke-width="11.0" stroke-linejoin="round" stroke-linecap="butt"/>
<path d="M1181.20 2505.00V2499.50M1173.30 2499.50H1189.10" stroke="#000" stroke-width="11.0" stroke-linecap="round" fill="none"/>
<path d="M1165.40 2541.90V2505.00H1197.00V2541.90" fill="url(#p35)" stroke="#000" stroke-width="11.0" stroke-linejoin="round" stroke-linecap="butt"/>
<path d="M1229.60 2281.70V2234.30M1221.70 2234.30H1237.50" stroke="#000" stroke-width="11.0" stroke-linecap="round" fill="none"/>
<path d="M1213.80 2541.90V2281.70H1245.40V2541.90" fill="url(#p36)" stroke="#000" stroke-width="11.0" stroke-linejoin="round" stroke-linecap="butt"/>
<path d="M1309.50 2462.60V2435.70M1301.60 2435.70H1317.40" stroke="#000" stroke-width="11.0" stroke-linecap="round" fill="none"/>
<path d="M1293.70 2541.90V2462.60H1325.30V2541.90" fill="url(#p37)" stroke="#000" stroke-width="11.0" stroke-linejoin="round" stroke-linecap="butt"/>
<path d="M1357.60 2246.00V2198.10M1349.70 2198.10H1365.50" stroke="#000" stroke-width="11.0" stroke-linecap="round" fill="none"/>
<path d="M1341.80 2541.90V2246.00H1373.40V2541.90" fill="url(#p38)" stroke="#000" stroke-width="11.0" stroke-linejoin="round" stroke-linecap="butt"/>
<path d="M1389.90 2541.90V2493.80H1421.50V2541.90" fill="url(#p39)" stroke="#000" stroke-width="11.0" stroke-linejoin="round" stroke-linecap="butt"/>
<path d="M1439.10 2541.90V1890.50H1470.70V2541.90" fill="url(#p40)" stroke="#000" stroke-width="11.0" stroke-linejoin="round" stroke-linecap="butt"/>
<path d="M369.9 1793.1V2541.9" stroke="#000" stroke-width="7.6" stroke-linecap="round" fill="none"/>
<path d="M351.5 2541.9H1493.1" stroke="#000" stroke-width="7.6" stroke-linecap="butt" fill="none"/><circle cx="351.5" cy="2541.9" r="3.8"/>
<path d="M351.7 1793.1H369.9" stroke="#000" stroke-width="7.6" stroke-linecap="round" fill="none"/>
<path d="M351.7 1980.3H369.9" stroke="#000" stroke-width="7.6" stroke-linecap="round" fill="none"/>
<path d="M351.7 2167.5H369.9" stroke="#000" stroke-width="7.6" stroke-linecap="round" fill="none"/>
<path d="M351.7 2354.7H369.9" stroke="#000" stroke-width="7.6" stroke-linecap="round" fill="none"/>
<path d="M481.6 2541.9V2559.8" stroke="#000" stroke-width="7.6" stroke-linecap="round" fill="none"/>
<path d="M706.9 2541.9V2559.8" stroke="#000" stroke-width="7.6" stroke-linecap="round" fill="none"/>
<path d="M932.1 2541.9V2559.8" stroke="#000" stroke-width="7.6" stroke-linecap="round" fill="none"/>
<path d="M1156.8 2541.9V2559.8" stroke="#000" stroke-width="7.6" stroke-linecap="round" fill="none"/>
<path d="M1381.6 2541.9V2559.8" stroke="#000" stroke-width="7.6" stroke-linecap="round" fill="none"/>
<text transform="translate(341.4 1815.8999999999999) scale(1 1.04)" font-family='"Liberation Sans", sans-serif' font-size="56.4" text-anchor="end">8<tspan stroke="#000" stroke-width="1.6" stroke-linejoin="miter">×</tspan>10<tspan font-size="43" dy="-19.81">04</tspan></text>
<text transform="translate(341.4 2003.1) scale(1 1.04)" font-family='"Liberation Sans", sans-serif' font-size="56.4" text-anchor="end">6<tspan stroke="#000" stroke-width="1.6" stroke-linejoin="miter">×</tspan>10<tspan font-size="43" dy="-19.81">04</tspan></text>
<text transform="translate(341.4 2190.3) scale(1 1.04)" font-family='"Liberation Sans", sans-serif' font-size="56.4" text-anchor="end">4<tspan stroke="#000" stroke-width="1.6" stroke-linejoin="miter">×</tspan>10<tspan font-size="43" dy="-19.81">04</tspan></text>
<text transform="translate(341.4 2377.5) scale(1 1.04)" font-family='"Liberation Sans", sans-serif' font-size="56.4" text-anchor="end">2<tspan stroke="#000" stroke-width="1.6" stroke-linejoin="miter">×</tspan>10<tspan font-size="43" dy="-19.81">04</tspan></text>
<text transform="translate(343.7 2564.7000000000003) scale(1.0 1.04)" font-family='"Liberation Sans", sans-serif' font-size="56.4" font-weight="normal" text-anchor="end" >0</text>
<text transform="translate(481.6 2619.6) scale(1.0 1.04)" font-family='"Liberation Sans", sans-serif' font-size="57" font-weight="normal" text-anchor="middle" >0.1</text>
<text transform="translate(706.9 2619.6) scale(1.0 1.04)" font-family='"Liberation Sans", sans-serif' font-size="57" font-weight="normal" text-anchor="middle" >0.5</text>
<text transform="translate(932.1 2619.6) scale(1.0 1.04)" font-family='"Liberation Sans", sans-serif' font-size="57" font-weight="normal" text-anchor="middle" >1.0</text>
<text transform="translate(1156.8 2619.6) scale(1.0 1.04)" font-family='"Liberation Sans", sans-serif' font-size="57" font-weight="normal" text-anchor="middle" >1.5</text>
<text transform="translate(1381.6 2619.6) scale(1.0 1.04)" font-family='"Liberation Sans", sans-serif' font-size="57" font-weight="normal" text-anchor="middle" >2.0</text>
<text transform="translate(933.5 2713.2) scale(1.0 1.01)" font-family='"Liberation Sans", sans-serif' font-size="61.65" font-weight="normal" text-anchor="middle" >Esculin (mM)</text>
<text transform="translate(116.7 2161.05) rotate(-90)" font-family='"Liberation Sans", sans-serif' font-size="61.8" text-anchor="middle">Relative Fluorescence</text>
<text x="88" y="1551.8" font-family='"Liberation Serif", serif' font-size="112" font-weight="bold" text-anchor="start" >B</text>
<rect x="1147.70" y="1429.70" width="87.90" height="53.60" fill="url(#p41)" stroke="#000" stroke-width="11"/>
<text transform="translate(1275.8 1477.0) scale(1.0 1.06)" font-family='"Liberation Serif", serif' font-size="61.1" font-weight="normal" text-anchor="start" >CA793</text>
<rect x="1148.60" y="1515.90" width="87.80" height="53.50" fill="url(#p42)" stroke="#000" stroke-width="11"/>
<text transform="translate(1277.0 1563.0) scale(1.0 1.06)" font-family='"Liberation Serif", serif' font-size="61.1" font-weight="normal" text-anchor="start" >CA794</text>
<rect x="1145.60" y="1601.40" width="88.00" height="53.10" fill="url(#p43)" stroke="#000" stroke-width="11"/>
<text transform="translate(1273.6 1647.3) scale(1.0 1.06)" font-family='"Liberation Serif", serif' font-size="61.1" font-weight="normal" text-anchor="start" >CB8053</text>
<rect x="1147.70" y="1688.50" width="87.90" height="52.90" fill="url(#p44)" stroke="#000" stroke-width="11"/>
<text transform="translate(1275.8 1733.4) scale(1.0 1.06)" font-family='"Liberation Serif", serif' font-size="61.1" font-weight="normal" text-anchor="start" >CB8054</text>
<path d="M410.50 4015.00V4002.50M402.60 4002.50H418.40" stroke="#000" stroke-width="11.0" stroke-linecap="round" fill="none"/>
<path d="M394.70 4055.30V4015.00H426.30V4055.30" fill="url(#p45)" stroke="#000" stroke-width="11.0" stroke-linejoin="round" stroke-linecap="butt"/>
<path d="M458.60 3902.70V3866.50M450.70 3866.50H466.50" stroke="#000" stroke-width="11.0" stroke-linecap="round" fill="none"/>
<path d="M442.80 4055.30V3902.70H474.40V4055.30" fill="url(#p46)" stroke="#000" stroke-width="11.0" stroke-linejoin="round" stroke-linecap="butt"/>
<path d="M507.70 3937.70V3909.00M499.80 3909.00H515.60" stroke="#000" stroke-width="11.0" stroke-linecap="round" fill="none"/>
<path d="M491.90 4055.30V3937.70H523.50V4055.30" fill="url(#p47)" stroke="#000" stroke-width="11.0" stroke-linejoin="round" stroke-linecap="butt"/>
<path d="M555.90 3786.00V3737.80M548.00 3737.80H563.80" stroke="#000" stroke-width="11.0" stroke-linecap="round" fill="none"/>
<path d="M540.10 4055.30V3786.00H571.70V4055.30" fill="url(#p48)" stroke="#000" stroke-width="11.0" stroke-linejoin="round" stroke-linecap="butt"/>
<path d="M637.30 3993.00V3972.10M629.40 3972.10H645.20" stroke="#000" stroke-width="11.0" stroke-linecap="round" fill="none"/>
<path d="M621.50 4055.30V3993.00H653.10V4055.30" fill="url(#p49)" stroke="#000" stroke-width="11.0" stroke-linejoin="round" stroke-linecap="butt"/>
<path d="M686.10 3894.70V3887.30M678.20 3887.30H694.00" stroke="#000" stroke-width="11.0" stroke-linecap="round" fill="none"/>
<path d="M670.30 4055.30V3894.70H701.90V4055.30" fill="url(#p50)" stroke="#000" stroke-width="11.0" stroke-linejoin="round" stroke-linecap="butt"/>
<path d="M734.70 3909.00V3893.20M726.80 3893.20H742.60" stroke="#000" stroke-width="11.0" stroke-linecap="round" fill="none"/>
<path d="M718.90 4055.30V3909.00H750.50V4055.30" fill="url(#p51)" stroke="#000" stroke-width="11.0" stroke-linejoin="round" stroke-linecap="butt"/>
<path d="M783.40 3672.30V3656.10M775.50 3656.10H791.30" stroke="#000" stroke-width="11.0" stroke-linecap="round" fill="none"/>
<path d="M767.60 4055.30V3672.30H799.20V4055.30" fill="url(#p52)" stroke="#000" stroke-width="11.0" stroke-linejoin="round" stroke-linecap="butt"/>
<path d="M864.60 3971.30V3943.90M856.70 3943.90H872.50" stroke="#000" stroke-width="11.0" stroke-linecap="round" fill="none"/>
<path d="M848.80 4055.30V3971.30H880.40V4055.30" fill="url(#p53)" stroke="#000" stroke-width="11.0" stroke-linejoin="round" stroke-linecap="butt"/>
<path d="M912.60 3811.70V3750.10M904.70 3750.10H920.50" stroke="#000" stroke-width="11.0" stroke-linecap="round" fill="none"/>
<path d="M896.80 4055.30V3811.70H928.40V4055.30" fill="url(#p54)" stroke="#000" stroke-width="11.0" stroke-linejoin="round" stroke-linecap="butt"/>
<path d="M961.60 3900.70V3875.30M953.70 3875.30H969.50" stroke="#000" stroke-width="11.0" stroke-linecap="round" fill="none"/>
<path d="M945.80 4055.30V3900.70H977.40V4055.30" fill="url(#p55)" stroke="#000" stroke-width="11.0" stroke-linejoin="round" stroke-linecap="butt"/>
<path d="M1010.30 3532.20V3523.50M1002.40 3523.50H1018.20" stroke="#000" stroke-width="11.0" stroke-linecap="round" fill="none"/>
<path d="M994.50 4055.30V3532.20H1026.10V4055.30" fill="url(#p56)" stroke="#000" stroke-width="11.0" stroke-linejoin="round" stroke-linecap="butt"/>
<path d="M1091.50 3941.40V3904.50M1083.60 3904.50H1099.40" stroke="#000" stroke-width="11.0" stroke-linecap="round" fill="none"/>
<path d="M1075.70 4055.30V3941.40H1107.30V4055.30" fill="url(#p57)" stroke="#000" stroke-width="11.0" stroke-linejoin="round" stroke-linecap="butt"/>
<path d="M1140.50 3743.00V3700.50M1132.60 3700.50H1148.40" stroke="#000" stroke-width="11.0" stroke-linecap="round" fill="none"/>
<path d="M1124.70 4055.30V3743.00H1156.30V4055.30" fill="url(#p58)" stroke="#000" stroke-width="11.0" stroke-linejoin="round" stroke-linecap="butt"/>
<path d="M1188.70 3815.40V3801.70M1180.80 3801.70H1196.60" stroke="#000" stroke-width="11.0" stroke-linecap="round" fill="none"/>
<path d="M1172.90 4055.30V3815.40H1204.50V4055.30" fill="url(#p59)" stroke="#000" stroke-width="11.0" stroke-linejoin="round" stroke-linecap="butt"/>
<path d="M1237.10 3405.30V3402.50M1229.20 3402.50H1245.00" stroke="#000" stroke-width="11.0" stroke-linecap="round" fill="none"/>
<path d="M1221.30 4055.30V3405.30H1252.90V4055.30" fill="url(#p60)" stroke="#000" stroke-width="11.0" stroke-linejoin="round" stroke-linecap="butt"/>
<path d="M1318.70 3955.10V3936.40M1310.80 3936.40H1326.60" stroke="#000" stroke-width="11.0" stroke-linecap="round" fill="none"/>
<path d="M1302.90 4055.30V3955.10H1334.50V4055.30" fill="url(#p61)" stroke="#000" stroke-width="11.0" stroke-linejoin="round" stroke-linecap="butt"/>
<path d="M1366.70 3486.80V3422.80M1358.80 3422.80H1374.60" stroke="#000" stroke-width="11.0" stroke-linecap="round" fill="none"/>
<path d="M1350.90 4055.30V3486.80H1382.50V4055.30" fill="url(#p62)" stroke="#000" stroke-width="11.0" stroke-linejoin="round" stroke-linecap="butt"/>
<path d="M1415.60 3838.40V3791.70M1407.70 3791.70H1423.50" stroke="#000" stroke-width="11.0" stroke-linecap="round" fill="none"/>
<path d="M1399.80 4055.30V3838.40H1431.40V4055.30" fill="url(#p63)" stroke="#000" stroke-width="11.0" stroke-linejoin="round" stroke-linecap="butt"/>
<path d="M1464.90 3389.10V3364.60M1457.00 3364.60H1472.80" stroke="#000" stroke-width="11.0" stroke-linecap="round" fill="none"/>
<path d="M1449.10 4055.30V3389.10H1480.70V4055.30" fill="url(#p64)" stroke="#000" stroke-width="11.0" stroke-linejoin="round" stroke-linecap="butt"/>
<path d="M369.7 3310.9V4055.3" stroke="#000" stroke-width="7.6" stroke-linecap="square" fill="none"/>
<path d="M351.5 4055.3H1500.6" stroke="#000" stroke-width="7.6" stroke-linecap="butt" fill="none"/><circle cx="351.5" cy="4055.3" r="3.8"/>
<path d="M351.7 3350.7H369.7" stroke="#000" stroke-width="7.6" stroke-linecap="round" fill="none"/>
<path d="M351.7 3526.85H369.7" stroke="#000" stroke-width="7.6" stroke-linecap="round" fill="none"/>
<path d="M351.7 3703.0H369.7" stroke="#000" stroke-width="7.6" stroke-linecap="round" fill="none"/>
<path d="M351.7 3879.15H369.7" stroke="#000" stroke-width="7.6" stroke-linecap="round" fill="none"/>
<path d="M482.8 4055.3V4073.8" stroke="#000" stroke-width="7.6" stroke-linecap="round" fill="none"/>
<path d="M709.3 4055.3V4073.8" stroke="#000" stroke-width="7.6" stroke-linecap="round" fill="none"/>
<path d="M936.8 4055.3V4073.8" stroke="#000" stroke-width="7.6" stroke-linecap="round" fill="none"/>
<path d="M1163.3 4055.3V4073.8" stroke="#000" stroke-width="7.6" stroke-linecap="round" fill="none"/>
<path d="M1391 4055.3V4073.8" stroke="#000" stroke-width="7.6" stroke-linecap="round" fill="none"/>
<text transform="translate(341.4 3373.5) scale(1 1.04)" font-family='"Liberation Sans", sans-serif' font-size="56.4" text-anchor="end">8<tspan stroke="#000" stroke-width="1.6" stroke-linejoin="miter">×</tspan>10<tspan font-size="43" dy="-19.81">04</tspan></text>
<text transform="translate(341.4 3549.65) scale(1 1.04)" font-family='"Liberation Sans", sans-serif' font-size="56.4" text-anchor="end">6<tspan stroke="#000" stroke-width="1.6" stroke-linejoin="miter">×</tspan>10<tspan font-size="43" dy="-19.81">04</tspan></text>
<text transform="translate(341.4 3725.8) scale(1 1.04)" font-family='"Liberation Sans", sans-serif' font-size="56.4" text-anchor="end">4<tspan stroke="#000" stroke-width="1.6" stroke-linejoin="miter">×</tspan>10<tspan font-size="43" dy="-19.81">04</tspan></text>
<text transform="translate(341.4 3901.9500000000003) scale(1 1.04)" font-family='"Liberation Sans", sans-serif' font-size="56.4" text-anchor="end">2<tspan stroke="#000" stroke-width="1.6" stroke-linejoin="miter">×</tspan>10<tspan font-size="43" dy="-19.81">04</tspan></text>
<text transform="translate(343.2 4078.1000000000004) scale(1.0 1.04)" font-family='"Liberation Sans", sans-serif' font-size="56.4" font-weight="normal" text-anchor="end" >0</text>
<text transform="translate(482.2 4133.6) scale(1.0 1.04)" font-family='"Liberation Sans", sans-serif' font-size="57" font-weight="normal" text-anchor="middle" >1</text>
<text transform="translate(708.6999999999999 4133.6) scale(1.0 1.04)" font-family='"Liberation Sans", sans-serif' font-size="57" font-weight="normal" text-anchor="middle" >2</text>
<text transform="translate(936.1999999999999 4133.6) scale(1.0 1.04)" font-family='"Liberation Sans", sans-serif' font-size="57" font-weight="normal" text-anchor="middle" >3</text>
<text transform="translate(1162.7 4133.6) scale(1.0 1.04)" font-family='"Liberation Sans", sans-serif' font-size="57" font-weight="normal" text-anchor="middle" >4</text>
<text transform="translate(1390.4 4133.6) scale(1.0 1.04)" font-family='"Liberation Sans", sans-serif' font-size="57" font-weight="normal" text-anchor="middle" >5</text>
<text transform="translate(936.75 4230.7) scale(1.0 1.01)" font-family='"Liberation Sans", sans-serif' font-size="61.9" font-weight="normal" text-anchor="middle" >Time (h)</text>
<text transform="translate(116.7 3675) rotate(-90)" font-family='"Liberation Sans", sans-serif' font-size="61.85" text-anchor="middle">Relative Fluorescence</text>
<text transform="translate(85.4 3136.9) scale(1.07 1.017)" font-family='"Liberation Serif", serif' font-size="112" font-weight="bold" text-anchor="start" >C</text>
<rect x="1170.40" y="2970.40" width="88.00" height="53.20" fill="url(#p65)" stroke="#000" stroke-width="11"/>
<text transform="translate(1298.2 3017.7) scale(1.0 1.065)" font-family='"Liberation Serif", serif' font-size="60.45" font-weight="normal" text-anchor="start" >CA793</text>
<rect x="1170.40" y="3056.40" width="88.00" height="53.90" fill="url(#p66)" stroke="#000" stroke-width="11"/>
<text transform="translate(1298.2 3103.7) scale(1.0 1.065)" font-family='"Liberation Serif", serif' font-size="60.45" font-weight="normal" text-anchor="start" >CA794</text>
<rect x="1170.40" y="3142.80" width="88.00" height="53.50" fill="url(#p67)" stroke="#000" stroke-width="11"/>
<text transform="translate(1298.2 3189.3) scale(1.0 1.065)" font-family='"Liberation Serif", serif' font-size="60.45" font-weight="normal" text-anchor="start" >CB8053</text>
<rect x="1170.40" y="3228.90" width="88.00" height="53.60" fill="url(#p68)" stroke="#000" stroke-width="11"/>
<text transform="translate(1298.2 3275.3) scale(1.0 1.065)" font-family='"Liberation Serif", serif' font-size="60.45" font-weight="normal" text-anchor="start" >CB8054</text>
</svg>
</body></html>
